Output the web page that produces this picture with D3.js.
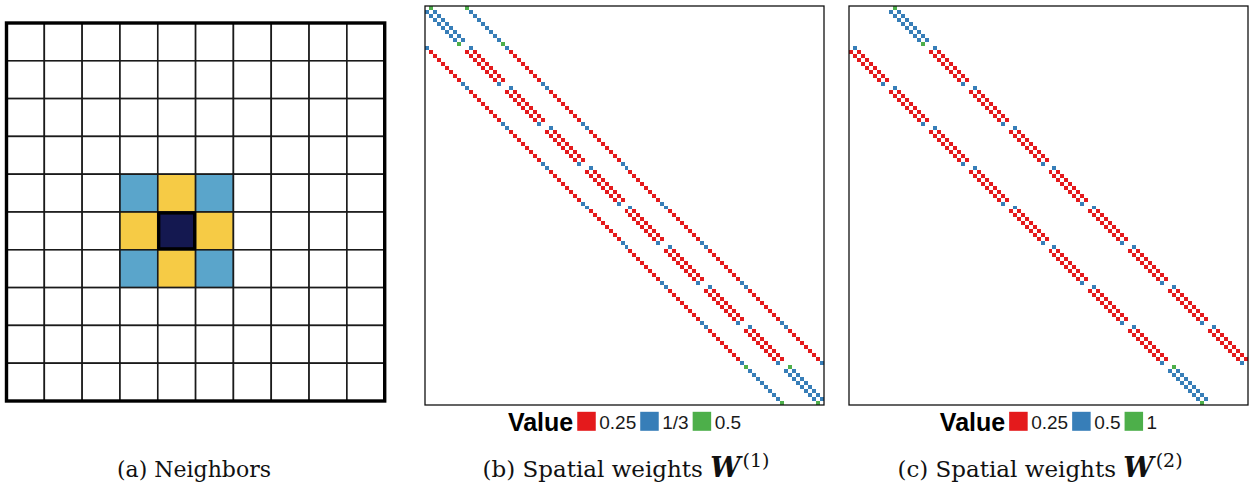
<!DOCTYPE html>
<html>
<head>
<meta charset="utf-8">
<script src="https://cdn.jsdelivr.net/npm/d3@7"></script>
<style>
  html, body { margin: 0; padding: 0; background: #fff; }
  svg { display: block; }
</style>
</head>
<body>
<svg id="fig" width="1249" height="487"></svg>
<script>
// ---- data ----
const gridSize = 10;                       // 10 x 10 lattice, 100 areal units
const focusCell = [5, 4];                  // [row, col] of the highlighted unit
const rookOffsets = [[-1, 0], [1, 0], [0, -1], [0, 1]];      // first-order (edge) neighbours
const bishopOffsets = [[-1, -1], [-1, 1], [1, -1], [1, 1]];  // second-order (corner) neighbours

const w1Values = [1 / 4, 1 / 3, 1 / 2];
const w1Labels = ["0.25", "1/3", "0.5"];
const w2Values = [1 / 4, 1 / 2, 1];
const w2Labels = ["0.25", "0.5", "1"];
const valueColors = ["#e41a1c", "#377eb8", "#4daf4a"];

const captions = [
  { tag: "(a)", text: "Neighbors", sup: null },
  { tag: "(b)", text: "Spatial weights", sup: "(1)" },
  { tag: "(c)", text: "Spatial weights", sup: "(2)" }
];

// ---- helpers ----
function rowStandardised(offsets) {
  const cells = [];
  for (let r = 0; r < gridSize; r++) {
    for (let c = 0; c < gridSize; c++) {
      const i = r * gridSize + c;
      const nb = offsets
        .map(([dr, dc]) => [r + dr, c + dc])
        .filter(([rr, cc]) => rr >= 0 && rr < gridSize && cc >= 0 && cc < gridSize)
        .map(([rr, cc]) => rr * gridSize + cc);
      nb.forEach(j => cells.push({ i, j, v: 1 / nb.length }));
    }
  }
  return cells;
}

const svg = d3.select("#fig");

// ---- panel (a): lattice with neighbour highlighting ----
const gA = svg.append("g");
const aX = d3.scaleBand().domain(d3.range(gridSize)).range([6.5, 384.7]);
const aY = d3.scaleBand().domain(d3.range(gridSize)).range([23, 401]);

const latticeCells = [];
for (let r = 0; r < gridSize; r++) {
  for (let c = 0; c < gridSize; c++) {
    let kind = "none";
    const dr = r - focusCell[0], dc = c - focusCell[1];
    if (dr === 0 && dc === 0) kind = "focus";
    else if (rookOffsets.some(o => o[0] === dr && o[1] === dc)) kind = "rook";
    else if (bishopOffsets.some(o => o[0] === dr && o[1] === dc)) kind = "bishop";
    latticeCells.push({ r, c, kind });
  }
}
const kindFill = { none: "#ffffff", focus: "#141850", rook: "#f6cb45", bishop: "#5aa5cb" };

gA.selectAll("rect.cell").data(latticeCells).join("rect")
  .attr("class", "cell")
  .attr("x", d => aX(d.c))
  .attr("y", d => aY(d.r))
  .attr("width", aX.bandwidth())
  .attr("height", aY.bandwidth())
  .attr("fill", d => kindFill[d.kind])
  .attr("stroke", "#1a1a1a")
  .attr("stroke-width", 1.6);

// thick outline on the focus unit
gA.append("rect")
  .attr("x", aX(focusCell[1]) + 1)
  .attr("y", aY(focusCell[0]) + 1)
  .attr("width", aX.bandwidth() - 2)
  .attr("height", aY.bandwidth() - 2)
  .attr("fill", "none")
  .attr("stroke", "#000")
  .attr("stroke-width", 3.2);

gA.append("rect")
  .attr("x", aX.range()[0])
  .attr("y", aY.range()[0])
  .attr("width", aX.range()[1] - aX.range()[0])
  .attr("height", aY.range()[1] - aY.range()[0])
  .attr("fill", "none")
  .attr("stroke", "#000")
  .attr("stroke-width", 3.4);

// ---- panels (b), (c): weight matrices ----
function matrixPanel(x0, cells, values, labels) {
  const n = gridSize * gridSize;
  const size = 399;
  const g = svg.append("g");
  const x = d3.scaleBand().domain(d3.range(n)).range([x0, x0 + size]);
  const y = d3.scaleBand().domain(d3.range(n)).range([6, 6 + size]);
  const color = d3.scaleOrdinal().domain(values).range(valueColors);
  const key = v => values.reduce((best, u) => Math.abs(u - v) < Math.abs(best - v) ? u : best, values[0]);

  g.append("rect")
    .attr("x", x0).attr("y", 6).attr("width", size).attr("height", size)
    .attr("fill", "#fff");

  g.selectAll("rect.w").data(cells).join("rect")
    .attr("class", "w")
    .attr("x", d => x(d.j))
    .attr("y", d => y(d.i))
    .attr("width", x.bandwidth())
    .attr("height", y.bandwidth())
    .attr("fill", d => color(key(d.v)))
    .attr("shape-rendering", "crispEdges");

  g.append("rect")
    .attr("x", x0).attr("y", 6).attr("width", size).attr("height", size)
    .attr("fill", "none")
    .attr("stroke", "#111")
    .attr("stroke-width", 1.3);

  // legend
  const lg = svg.append("g");
  let cx = 0;
  const title = lg.append("text")
    .attr("x", cx).attr("y", 430.5)
    .attr("font-family", "Liberation Sans, Arial, sans-serif")
    .attr("font-weight", "bold")
    .attr("font-size", 25)
    .attr("fill", "#000")
    .text("Value");
  cx += title.node().getComputedTextLength() + 4;
  values.forEach((v, k) => {
    lg.append("rect")
      .attr("x", cx).attr("y", 411.8)
      .attr("width", 18.5).attr("height", 19)
      .attr("fill", color(v));
    cx += 18.5 + 3.5;
    const t = lg.append("text")
      .attr("x", cx).attr("y", 429.3)
      .attr("font-family", "Liberation Sans, Arial, sans-serif")
      .attr("font-size", 19)
      .attr("fill", "#1a1a1a")
      .text(labels[k]);
    cx += t.node().getComputedTextLength() + 4;
  });
  cx -= 4;
  lg.attr("transform", `translate(${x0 + size / 2 - cx / 2},0)`);
}

matrixPanel(425, rowStandardised(rookOffsets), w1Values, w1Labels);
matrixPanel(849, rowStandardised(bishopOffsets), w2Values, w2Labels);

// ---- captions ----
const captionCenters = [194, 626, 1040];
captions.forEach((cap, k) => {
  const t = svg.append("text")
    .attr("x", captionCenters[k])
    .attr("y", 477)
    .attr("text-anchor", "middle")
    .attr("font-family", "DejaVu Serif, serif")
    .attr("font-size", cap.sup ? 23 : 22)
    .attr("fill", "#111");
  t.append("tspan").text(cap.tag + " " + cap.text);
  if (cap.sup) {
    t.append("tspan").text("\u00a0");
    t.append("tspan")
      .attr("font-weight", "bold")
      .attr("font-style", "italic")
      .attr("font-size", 27)
      .text("W");
    t.append("tspan")
      .attr("font-size", 19)
      .attr("dx", 2)
      .attr("dy", -10)
      .text(cap.sup);
  }
});
</script>
</body>
</html>
